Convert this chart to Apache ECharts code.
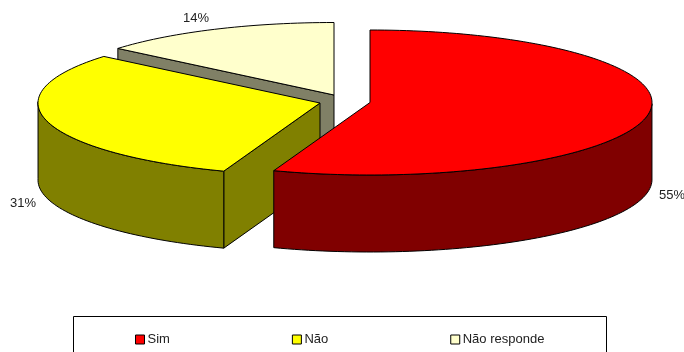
<!DOCTYPE html>
<html>
<head>
<meta charset="utf-8">
<style>html,body{margin:0;padding:0;background:#fff}#chart{width:684px;height:352px}</style>
<script src="https://cdn.jsdelivr.net/npm/echarts@6/dist/echarts.min.js"></script>
</head>
<body>
<div id="chart"></div>
<script>
// Survey answers, in percent
const categories = ['Sim', 'Não', 'Não responde'];
const shares = [55, 31, 14];

// Colours per answer: top face and side wall
const topColors = ['#ff0000', '#ffff00', '#ffffcc'];
const wallColors = ['#800000', '#808000', '#808066'];

// Pie projection and the exploded position of each slice
const radiusX = 282;
const radiusY = 72.5;
const depth = 77;
const centersX = [370, 320, 334];
const centersY = [102.5, 103, 95];

// Percent labels next to each slice
const labelX = [659, 10, 183];
const labelY = [195, 203, 18];

const total = shares.reduce((a, b) => a + b, 0);
const startShare = shares.map((_, i) => shares.slice(0, i).reduce((a, b) => a + b, 0));

// Perspective makes slices near the viewer open slightly wider
const warp = (deg) => deg + (1 - Math.cos(deg * Math.PI / 180));

function rim(cx, cy, deg) {
  const t = warp(deg) * Math.PI / 180;
  return [cx + radiusX * Math.sin(t), cy - radiusY * Math.cos(t)];
}

function arc(cx, cy, from, to) {
  const pts = [];
  const steps = Math.max(2, Math.ceil((to - from) / 1.5));
  for (let i = 0; i <= steps; i++) pts.push(rim(cx, cy, from + (to - from) * i / steps));
  return pts;
}

const drop = (pts) => pts.map((p) => [p[0], p[1] + depth]);

function poly(points, fill) {
  return {
    type: 'polygon',
    shape: { points },
    style: { fill, stroke: '#000', lineWidth: 1, lineJoin: 'round' }
  };
}

function renderSlice(params, api) {
  const i = params.seriesIndex;
  const value = api.value(0);
  const a = startShare[i] / total * 360;
  const b = a + value / total * 360;
  const cx = centersX[i];
  const cy = centersY[i];
  const hub = [cx, cy];
  const children = [];

  // Straight cut faces that turn toward the viewer
  const sinA = Math.sin(a * Math.PI / 180);
  const sinB = Math.sin(b * Math.PI / 180);
  if (sinA < -1e-6) {
    const e = rim(cx, cy, a);
    children.push(poly([hub, e, [e[0], e[1] + depth], [cx, cy + depth]], wallColors[i]));
  }
  if (sinB > 1e-6) {
    const e = rim(cx, cy, b);
    children.push(poly([hub, e, [e[0], e[1] + depth], [cx, cy + depth]], wallColors[i]));
  }

  // Outer wall on the front half of the ellipse
  const lo = Math.max(a, 90);
  const hi = Math.min(b, 270);
  if (hi > lo) {
    const upper = arc(cx, cy, lo, hi);
    children.push(poly(upper.concat(drop(upper).reverse()), wallColors[i]));
  }

  // Top face
  children.push(poly([hub].concat(arc(cx, cy, a, b)), topColors[i]));

  children.push({
    type: 'text',
    style: {
      text: value + '%',
      x: labelX[i],
      y: labelY[i],
      fill: '#222',
      font: '13px "Liberation Sans", Arial, sans-serif',
      verticalAlign: 'middle'
    }
  });
  return { type: 'group', children };
}

// Paint from the back slice to the front one
const drawOrder = [2, 1, 0];

const chart = echarts.init(document.getElementById('chart'));
chart.setOption({
  animation: false,
  backgroundColor: '#fff',
  legend: {
    data: categories,
    left: 135,
    top: 333,
    padding: 0,
    itemWidth: 9,
    itemHeight: 9,
    itemGap: 122,
    icon: 'rect',
    itemStyle: { borderColor: '#000', borderWidth: 1 },
    textStyle: { color: '#222', fontSize: 13, fontFamily: '"Liberation Sans", Arial, sans-serif', padding: [1, 0, 0, -2] }
  },
  graphic: [{
    type: 'rect',
    shape: { x: 73.5, y: 316.5, width: 533, height: 60 },
    style: { fill: 'none', stroke: '#000', lineWidth: 1 },
    silent: true
  }],
  series: categories.map((name, i) => ({
    type: 'custom',
    name,
    coordinateSystem: 'none',
    z: 2 + drawOrder.indexOf(i),
    itemStyle: { color: topColors[i] },
    renderItem: renderSlice,
    data: [[shares[i]]]
  }))
});
</script>
</body>
</html>
